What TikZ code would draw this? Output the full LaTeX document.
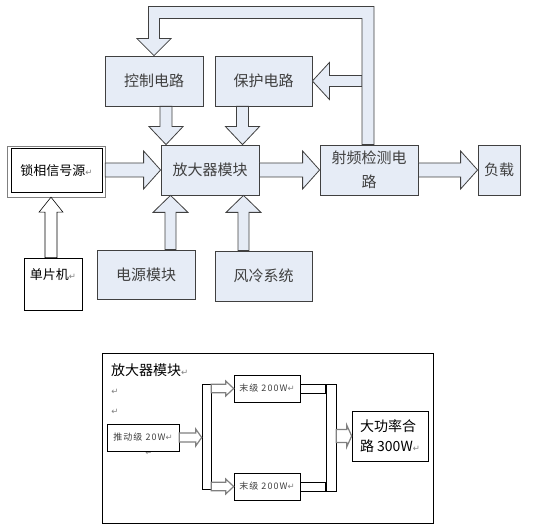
\documentclass[tikz,border=0pt]{standalone}
\usepackage{fontspec}
\newfontfamily\cjk{Noto Sans CJK SC}
\newfontfamily\symf{DejaVu Sans}
\usetikzlibrary{calc}
\definecolor{boxblue}{RGB}{230,236,246}
\definecolor{edgegray}{RGB}{64,64,64}
\newcommand{\ret}{{\symf\fontsize{8.5}{8.5}\selectfont\textcolor{gray}{↵}}}

\begin{document}
\begin{tikzpicture}[x=1pt,y=-1pt,font=\cjk\fontsize{15}{24}\selectfont,
    box/.style={draw=edgegray,line width=0.8pt,fill=boxblue,text=edgegray,minimum width=98pt,minimum height=50pt,inner sep=2pt},
    wbox/.style={draw=black,line width=0.6pt,fill=white,inner sep=2pt},
    barw/.style={draw=edgegray,line width=0.8pt,fill=boxblue,line join=miter},
    garw/.style={draw=gray,line width=1.2pt,fill=white,line join=miter},
    smalltxt/.style={font=\cjk\fontsize{9}{11}\selectfont\addfontfeature{LetterSpace=12},text=edgegray},
    blk/.style n args={3}{to path={
        ($(\tikztostart)!#1!90:(\tikztotarget)$)
        -- ($($(\tikztotarget)!#3!(\tikztostart)$)!#1!90:(\tikztotarget)$)
        -- ($($(\tikztotarget)!#3!(\tikztostart)$)!#2!90:(\tikztotarget)$)
        -- (\tikztotarget)
        -- ($($(\tikztotarget)!#3!(\tikztostart)$)!#2!-90:(\tikztotarget)$)
        -- ($($(\tikztotarget)!#3!(\tikztostart)$)!#1!-90:(\tikztotarget)$)
        -- ($(\tikztostart)!#1!-90:(\tikztotarget)$) -- cycle}},
    bus/.style={to path={($(\tikztostart)+(0,-4.5)$) rectangle ($(\tikztotarget)+(0,4.5)$)}}]
    \useasboundingbox (0,0) rectangle (560,529);

    % upper block diagram
    \node[box] (ctrl) at (154,81) {控制电路};
    \node[box,minimum width=97pt] (prot) at (263.5,81) {保护电路};
    \node[box] (amp) at (210,170) {放大器模块};
    \node[box,align=center] (rf) at (369,170) {射频检测电\\路};
    \node[box,minimum width=42pt] (load) at (499,170) {负载};
    \node[box,minimum height=49pt] (pwr) at (146,274.5) {电源模块};
    \node[box,minimum width=97pt] (fan) at (263.5,276) {风冷系统};
    \node[draw=gray,fill=white,minimum width=98pt,minimum height=51pt] (lockout) at (56,171.5) {};
    \node[draw=black,line width=1pt,minimum width=91pt,minimum height=44pt,font=\cjk\fontsize{13}{15}\selectfont] (lock) at (56.5,171) {锁相信号源\ret};
    \node[wbox,minimum width=58pt,text height=17pt,text depth=25pt,inner sep=5pt,font=\cjk\fontsize{13}{15}\selectfont] (mcu) at (53,284) {单片机\ret};

    \coordinate (c1) at ($(ctrl.south)+(12,0)$);
    \coordinate (c2) at ($(prot.south)+(-21,0)$);
    \coordinate (c3) at ($(pwr.north)+(24.5,0)$);
    \coordinate (c4) at ($(fan.north)+(-20,0)$);
    \coordinate (c5) at ($(mcu.north)+(-2,0)$);
    \coordinate (fb) at ($(rf.north)+(-1,0)$);
    \coordinate (c6) at ($(fb |- prot.east)+(-6,0)$);

    \draw[barw] (c1) to[blk={6pt}{17pt}{18pt}] (c1 |- amp.north);
    \draw[barw] (c2) to[blk={6pt}{17pt}{18pt}] (c2 |- amp.north);
    \draw[barw] (c3) to[blk={5.5pt}{17.5pt}{17pt}] (c3 |- amp.south);
    \draw[barw] (c4) to[blk={5.5pt}{17.5pt}{17pt}] (c4 |- amp.south);
    \draw[barw] (lockout.east |- amp.west) to[blk={7pt}{19pt}{17pt}] (amp.west);
    \draw[barw] (amp.east) to[blk={7pt}{19pt}{17pt}] (rf.west);
    \draw[barw] (rf.east) to[blk={7pt}{19pt}{17pt}] (load.west);
    \draw[draw=black,line width=0.6pt,fill=white] (c5) to[blk={6pt}{12pt}{15pt}] (c5 |- lockout.south);
    \draw[barw] (c6) to[blk={5.5pt}{18.5pt}{17pt}] (prot.east);
    % feedback from rf detector to control
    \draw[barw] ($(fb)+(6,0)$) -- ($(fb)+(6,-138)$) -- ($(ctrl.north)+(-5.5,-49)$)
        -- ($(ctrl.north)+(-5.5,-17)$) -- ($(ctrl.north)+(-17,-17)$) -- (ctrl.north)
        -- ($(ctrl.north)+(17,-17)$) -- ($(ctrl.north)+(5.5,-17)$)
        -- ($(ctrl.north)+(5.5,-37)$) -- ($(fb)+(-6,-126)$) -- ($(fb)+(-6,0)$) -- cycle;

    % amplifier module detail
    \node[draw,line width=0.6pt,minimum width=331pt,minimum height=170pt] (amod) at (267.5,438) {};
    \node[anchor=west,inner sep=0pt,font=\cjk\fontsize{14}{16}\selectfont] (title) at (111,370) {放大器模块\ret};
    \node (r1) at (115,392) {\ret};
    \node (r2) at (115,412) {\ret};
    \node (r3) at (149,453) {\ret};
    \node[wbox,smalltxt,minimum width=72pt,minimum height=27pt] (drv) at (143,437.5) {推动级 20W\ret};
    \node[wbox,smalltxt,minimum width=66pt,minimum height=27pt] (end1) at (267,388.5) {末级 200W\ret};
    \node[wbox,smalltxt,minimum width=66pt,minimum height=27pt] (end2) at (267,486.5) {末级 200W\ret};
    \node[wbox,minimum width=9pt,minimum height=105pt,inner sep=0pt] (split) at (206.5,436.5) {};
    \node[wbox,minimum width=10pt,minimum height=107pt,inner sep=0pt] (comb) at (331,437.5) {};
    \node[wbox,align=left,minimum width=76pt,minimum height=50pt,font=\cjk\fontsize{14}{20}\selectfont] (out) at (390,436) {大功率合\\路 300W\ret};

    \draw[garw] (drv.east) to[blk={4.5pt}{8.5pt}{6pt}] (split.west |- drv.east);
    \draw[garw] (split.east |- end1.west) to[blk={4.3pt}{7.5pt}{8pt}] (end1.west);
    \draw[garw] (split.east |- end2.west) to[blk={4.3pt}{7.5pt}{8pt}] (end2.west);
    \draw[garw] (comb.east |- out.west) to[blk={6.5pt}{11pt}{5pt}] (out.west);
    \draw[wbox] (end1.east) to[bus] (comb.west |- end1.east);
    \draw[wbox] (end2.east) to[bus] (comb.west |- end2.east);
\end{tikzpicture}
\end{document}
